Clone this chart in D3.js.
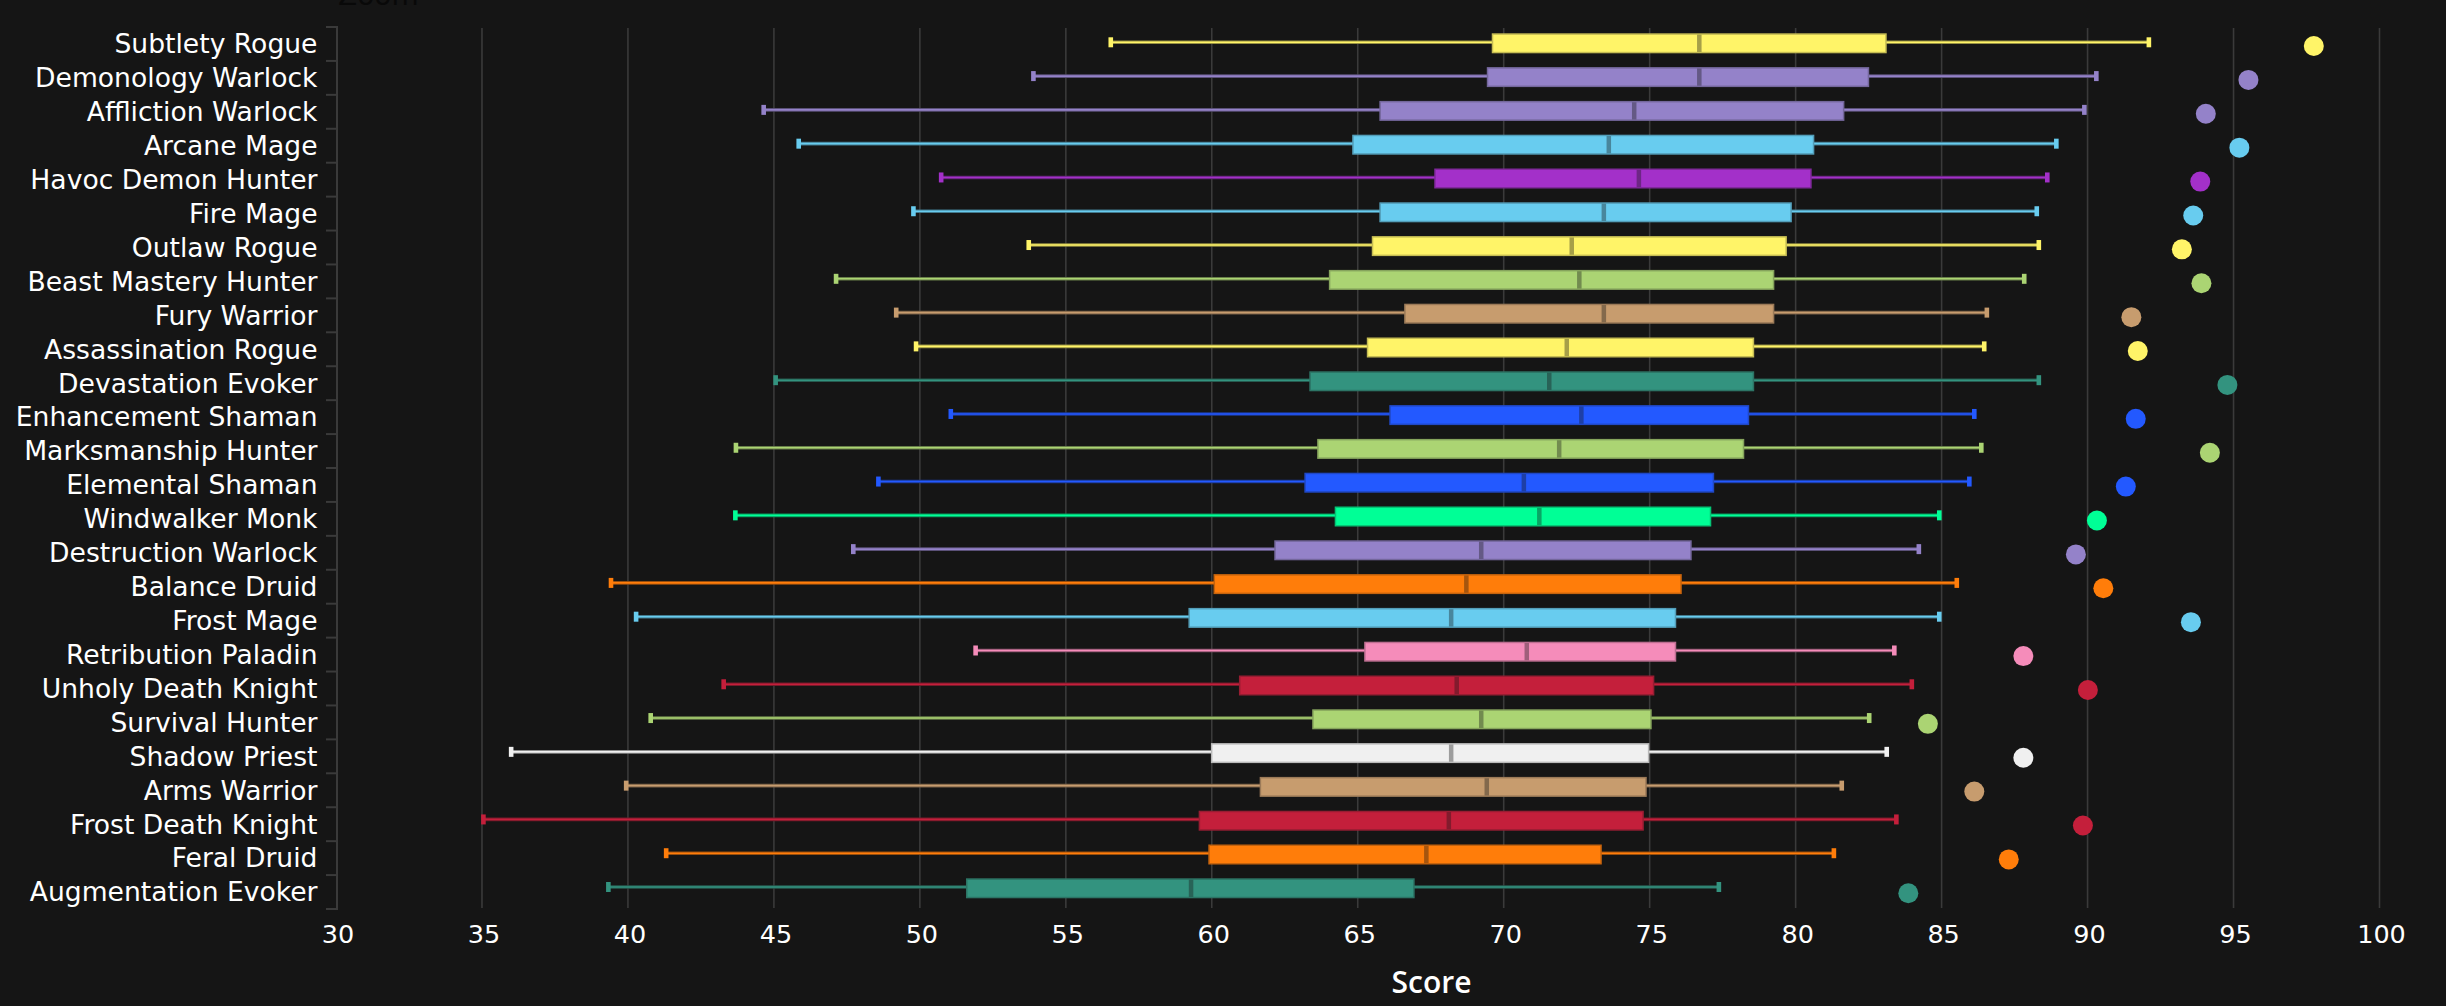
<!DOCTYPE html>
<html>
<head>
<meta charset="utf-8">
<title>Score by spec</title>
<script src="https://d3js.org/d3.v7.min.js"></script>
<style>
    html, body { margin: 0; padding: 0; background: #151515; overflow: hidden; }
    text { font-family: "DejaVu Sans", sans-serif; fill: #fff; }
</style>
</head>
<body>
<div id="chart"></div>
<script>

var specs = ["Subtlety Rogue", "Demonology Warlock", "Affliction Warlock", "Arcane Mage", "Havoc Demon Hunter",
    "Fire Mage", "Outlaw Rogue", "Beast Mastery Hunter", "Fury Warrior", "Assassination Rogue",
    "Devastation Evoker", "Enhancement Shaman", "Marksmanship Hunter", "Elemental Shaman", "Windwalker Monk",
    "Destruction Warlock", "Balance Druid", "Frost Mage", "Retribution Paladin", "Unholy Death Knight",
    "Survival Hunter", "Shadow Priest", "Arms Warrior", "Frost Death Knight", "Feral Druid", "Augmentation Evoker"];

var low = [56.54, 53.89, 44.65, 45.85, 50.73, 49.78, 53.73, 47.13, 49.19, 49.87, 45.06, 51.06, 43.70,
    48.58, 43.68, 47.72, 39.42, 40.28, 51.91, 43.28, 40.78, 36.00, 39.94, 35.05, 41.31, 39.33];
var q1 = [69.59, 69.42, 65.74, 64.81, 67.62, 65.74, 65.48, 64.01, 66.59, 65.31, 63.34, 66.08, 63.61,
    63.17, 64.21, 62.14, 60.06, 59.20, 65.22, 60.93, 63.44, 59.97, 61.64, 59.55, 59.88, 51.58];
var median = [76.70, 76.70, 74.47, 73.60, 74.63, 73.43, 72.33, 72.59, 73.43, 72.16, 71.56, 72.66, 71.90,
    70.69, 71.22, 69.23, 68.72, 68.20, 70.79, 68.39, 69.23, 68.20, 69.42, 68.12, 67.35, 59.29];
var q3 = [83.12, 82.52, 81.67, 80.64, 80.55, 79.87, 79.70, 79.27, 79.27, 78.58, 78.58, 78.41, 78.24,
    77.21, 77.11, 76.44, 76.10, 75.91, 75.91, 75.16, 75.07, 74.99, 74.90, 74.80, 73.36, 66.95];
var high = [92.10, 90.30, 89.89, 88.93, 88.62, 88.26, 88.33, 87.83, 86.55, 86.46, 88.33, 86.12, 86.36,
    85.95, 84.92, 84.22, 85.52, 84.92, 83.38, 83.98, 82.52, 83.12, 81.58, 83.45, 81.31, 77.37];
var score = [97.75, 95.51, 94.05, 95.20, 93.86, 93.62, 93.23, 93.90, 91.50, 91.72, 94.79, 91.65, 94.19,
    91.31, 90.32, 89.60, 90.54, 93.54, 87.80, 90.01, 84.53, 87.80, 86.12, 89.84, 87.30, 83.86];
var xTicks = [30, 35, 40, 45, 50, 55, 60, 65, 70, 75, 80, 85, 90, 95, 100];

// Demon Hunter has to come before Hunter, the first suffix that matches wins
var classNames = ["Rogue", "Warlock", "Mage", "Demon Hunter", "Hunter", "Warrior", "Evoker", "Shaman", "Monk", "Druid", "Paladin", "Death Knight", "Priest"];
var classColors = ["#fff468", "#9482c9", "#68ccef", "#a330c9", "#abd473", "#c79c6e", "#33937f", "#2359ff", "#00ff96", "#ff7d0a", "#f58cba", "#c41f3b", "#f0f0f0"];

var width = 2446, height = 1006, bg = "#151515";

var color = d3.scaleOrdinal().domain(classNames).range(classColors);

function specColor(spec) {
    return color(classNames.find(function (c) { return spec.slice(-c.length) === c; }));
}

function edge(c, t) {
    return d3.interpolateRgb(c, bg)(t);
}

var rows = specs.map(function (s, i) {
    return { spec: s, low: low[i], q1: q1[i], median: median[i], q3: q3[i], high: high[i], score: score[i], color: specColor(s) };
});

var svg = d3.select("#chart").append("svg")
    .attr("width", width)
    .attr("height", height)
    .style("display", "block");

// Scales. The stems, boxes and dots sit on slightly different rows in the picture
var x = d3.scaleLinear().domain([30, 100]).range([336, 2379.5]);
var yBand = d3.scaleBand().domain(specs).range([27, 909]);
var yStem = d3.scalePoint().domain(specs).range([42.3, 887]);
var yBox = d3.scalePoint().domain(specs).range([43.3, 888.3]);
var yDot = d3.scalePoint().domain(specs).range([46, 893.3]);

// Clipped title left over at the top edge
svg.append("text")
    .attr("x", 338)
    .attr("y", 5)
    .style("font-size", "28px")
    .style("fill", "#090909")
    .text("Zoom");

// Grid
svg.append("g").selectAll("line")
    .data(xTicks.slice(1))
    .enter().append("line")
    .attr("x1", function (d) { return x(d); })
    .attr("x2", function (d) { return x(d); })
    .attr("y1", 28)
    .attr("y2", 908)
    .attr("stroke", "#3a3a3a")
    .attr("stroke-width", 1.6);

// Axes
var yAxis = d3.axisLeft(yBand).tickSize(0).tickPadding(0);
var gy = svg.append("g").attr("transform", "translate(317.5,0)").call(yAxis);
gy.select(".domain").remove();
gy.selectAll("text")
    .attr("dy", "9.3px")
    .style("font-size", "26.6px");

svg.append("line")
    .attr("x1", 337).attr("x2", 337)
    .attr("y1", 26).attr("y2", 910)
    .attr("stroke", "#3a3a3a").attr("stroke-width", 2);

svg.append("g").selectAll("line")
    .data(specs.concat(["end"]))
    .enter().append("line")
    .attr("x1", 326).attr("x2", 337)
    .attr("y1", function (d) { return d === "end" ? yBand.range()[1] : yBand(d); })
    .attr("y2", function (d) { return d === "end" ? yBand.range()[1] : yBand(d); })
    .attr("stroke", "#3a3a3a").attr("stroke-width", 2);

var xAxis = d3.axisBottom(x).tickValues(xTicks).tickSize(0).tickPadding(0);
var gx = svg.append("g").attr("transform", "translate(1.5,924)").call(xAxis);
gx.select(".domain").remove();
gx.selectAll("text")
    .attr("y", 19)
    .attr("dy", 0)
    .style("font-size", "25.5px");

svg.append("text")
    .attr("x", 1431.5)
    .attr("y", 993)
    .attr("text-anchor", "middle")
    .style("font-family", "'Open Sans', sans-serif")
    .style("font-size", "30px")
    .style("font-weight", 600)
    .text("Score");

// Boxes
var row = svg.append("g").selectAll("g")
    .data(rows)
    .enter().append("g");

row.append("line")
    .attr("x1", function (d) { return x(d.low); })
    .attr("x2", function (d) { return x(d.high); })
    .attr("y1", function (d) { return yStem(d.spec); })
    .attr("y2", function (d) { return yStem(d.spec); })
    .attr("stroke", function (d) { return edge(d.color, 0.45); })
    .attr("stroke-width", 3.6);

row.append("line")
    .attr("x1", function (d) { return x(d.low); })
    .attr("x2", function (d) { return x(d.high); })
    .attr("y1", function (d) { return yStem(d.spec); })
    .attr("y2", function (d) { return yStem(d.spec); })
    .attr("stroke", function (d) { return d.color; })
    .attr("stroke-width", 1.6);

row.selectAll(".cap")
    .data(function (d) { return [{ v: d.low, d: d }, { v: d.high, d: d }]; })
    .enter().append("rect")
    .attr("class", "cap")
    .attr("x", function (c) { return x(c.v) - 2.3; })
    .attr("width", 4.6)
    .attr("y", function (c) { return yStem(c.d.spec) - 5; })
    .attr("height", 10)
    .attr("fill", function (c) { return c.d.color; });

row.append("rect")
    .attr("x", function (d) { return x(d.q1) + 0.75; })
    .attr("width", function (d) { return x(d.q3) - x(d.q1) - 1.5; })
    .attr("y", function (d) { return yBox(d.spec) - 9.25; })
    .attr("height", 18.5)
    .attr("fill", function (d) { return d.color; })
    .attr("stroke", function (d) { return edge(d.color, 0.25); })
    .attr("stroke-width", 1.5);

row.append("rect")
    .attr("x", function (d) { return x(d.median) - 2.25; })
    .attr("width", 4.5)
    .attr("y", function (d) { return yBox(d.spec) - 8.7; })
    .attr("height", 17.4)
    .attr("fill", function (d) { return edge(d.color, 0.38); });

row.append("circle")
    .attr("cx", function (d) { return x(d.score); })
    .attr("cy", function (d) { return yDot(d.spec); })
    .attr("r", 10)
    .attr("fill", function (d) { return d.color; });

</script>
</body>
</html>
